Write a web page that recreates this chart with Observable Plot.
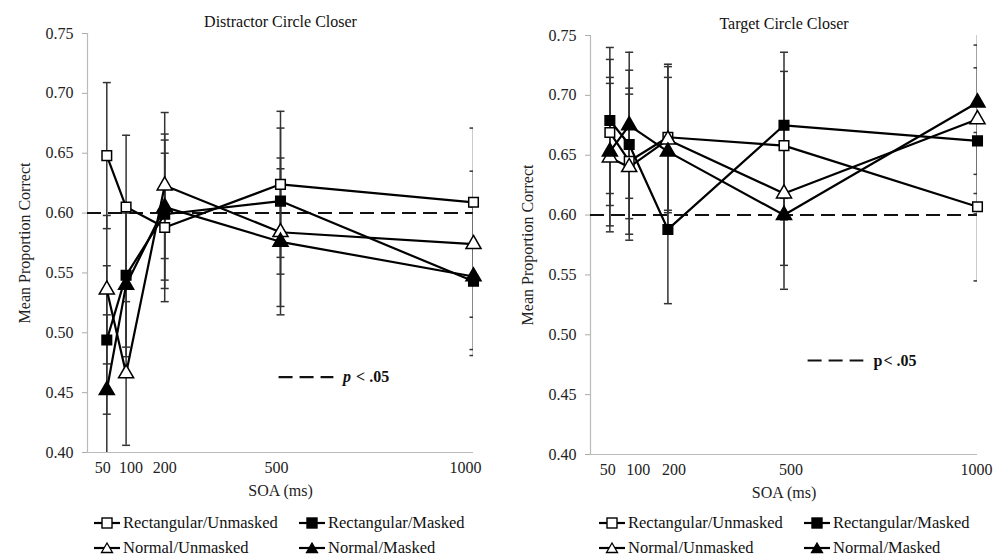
<!DOCTYPE html>
<html><head><meta charset="utf-8">
<script src="https://cdn.jsdelivr.net/npm/d3@7"></script>
<script src="https://cdn.jsdelivr.net/npm/@observablehq/plot@0.6"></script>
<style>
body{margin:0;background:#fff;font-family:"Liberation Serif","Times New Roman",serif;}
#wrap{position:relative;display:flex;width:1003px;height:559px;overflow:hidden;background:#fff}
.panel{position:relative;height:559px}
.legend{position:absolute;top:513px;display:grid;grid-template-columns:205px 180px;row-gap:5px;font-size:16.5px;line-height:20px;color:#111}
.legend div{display:flex;align-items:center;height:20px;white-space:nowrap}
.legend svg{margin-right:1px;flex:none}
</style></head><body><div id="wrap"></div><script>
const soa = [50, 100, 200, 500, 1000];
const yTicks = [0.40, 0.45, 0.50, 0.55, 0.60, 0.65, 0.70, 0.75];
const seriesNames = ["Rectangular/Unmasked", "Rectangular/Masked", "Normal/Unmasked", "Normal/Masked"];
const panelTitles = ["Distractor Circle Closer", "Target Circle Closer"];
const criterion = 0.60;

// Distractor Circle Closer
const dRectUnmasked = [0.648, 0.605, 0.588, 0.624, 0.609];
const dRectMasked   = [0.494, 0.548, 0.599, 0.610, 0.543];
const dNormUnmasked = [0.536, 0.466, 0.623, 0.584, 0.574];
const dNormMasked   = [0.452, 0.540, 0.605, 0.576, 0.547];
const dRectUnmaskedErr = [0.061, 0.060, 0.062, 0.061, 0.062];
const dRectMaskedErr   = [0.062, 0.060, 0.062, 0.061, 0.062];
const dNormUnmaskedErr = [0.062, 0.060, 0.061, 0.062, 0.061];
const dNormMaskedErr   = [0.063, 0.060, 0.061, 0.061, 0.061];

// Target Circle Closer
const tRectUnmasked = [0.669, 0.645, 0.665, 0.658, 0.607];
const tRectMasked   = [0.679, 0.659, 0.588, 0.675, 0.662];
const tNormUnmasked = [0.648, 0.640, 0.663, 0.618, 0.680];
const tNormMasked   = [0.653, 0.675, 0.653, 0.600, 0.694];
const tRectUnmaskedErr = [0.061, 0.061, 0.061, 0.062, 0.062];
const tRectMaskedErr   = [0.061, 0.062, 0.062, 0.061, 0.061];
const tNormUnmaskedErr = [0.062, 0.061, 0.061, 0.060, 0.062];
const tNormMaskedErr   = [0.062, 0.061, 0.062, 0.062, 0.060];

function buildRows(vals, errs) {
  const rows = [];
  seriesNames.forEach((s, i) => soa.forEach((x, j) => rows.push({series: s, soa: x, value: vals[i][j], err: errs[i][j]})));
  return rows;
}
const dRows = buildRows([dRectUnmasked, dRectMasked, dNormUnmasked, dNormMasked], [dRectUnmaskedErr, dRectMaskedErr, dNormUnmaskedErr, dNormMaskedErr]);
const tRows = buildRows([tRectUnmasked, tRectMasked, tNormUnmasked, tNormMasked], [tRectUnmaskedErr, tRectMaskedErr, tNormUnmaskedErr, tNormMaskedErr]);

const capSymbol = {draw(ctx, size) { const r = Math.sqrt(size / Math.PI); ctx.moveTo(-r, 0); ctx.lineTo(r, 0); }};
const style = {
  "Rectangular/Unmasked": {symbol: "square", fill: "#fff"},
  "Rectangular/Masked": {symbol: "square", fill: "#000"},
  "Normal/Unmasked": {symbol: "triangle", fill: "#fff"},
  "Normal/Masked": {symbol: "triangle", fill: "#000"}
};
const FONT = "'Liberation Serif', 'Times New Roman', serif";

function makePanel(rows, title, o) {
  const caps = rows.flatMap(d => [{soa: d.soa, y: d.value + d.err}, {soa: d.soa, y: d.value - d.err}]);
  const dotMarks = seriesNames.map(s => Plot.dot(rows.filter(d => d.series === s), {
    x: "soa", y: "value", symbol: style[s].symbol, fill: style[s].fill, stroke: "#000", strokeWidth: 1.5,
    r: style[s].symbol === "square" ? 5.4 : 5.6
  }));
  const xTickMarks = soa.map((t, i) => Plot.axisX([t], {tickSize: 0, tickPadding: 9, tickFormat: d => String(d), dx: o.tickDx[i], fontSize: 16, label: null, fill: "#222"}));
  return Plot.plot({
    width: o.width, height: 505,
    marginLeft: o.ml, marginRight: o.mr, marginTop: o.mt, marginBottom: 505 - o.bottom,
    style: {fontFamily: FONT, fontSize: "16px", color: "#222", background: "#fff", overflow: "visible"},
    x: {domain: [0, 1000], label: "SOA (ms)"},
    y: {domain: [0.40, 0.75]},
    marks: [
      Plot.axisY({ticks: yTicks, tickFormat: d3.format(".2f"), tickSize: 5, tickPadding: 9, stroke: "#aaa", fill: "#222", label: "Mean Proportion Correct", labelAnchor: "center", labelOffset: 69, labelArrow: "none", fontSize: 16}),
      ...xTickMarks,
      Plot.axisX({ticks: [], tickSize: 0, label: "SOA (ms)", labelAnchor: "center", labelOffset: 43, labelArrow: "none", fontSize: 16, fill: "#222"}),
      Plot.ruleX([0], {stroke: "#bbb", strokeWidth: 1.2}),
      Plot.ruleY([0.40], {stroke: "#bbb", strokeWidth: 1.2}),
      Plot.ruleY([criterion], {stroke: "#111", strokeWidth: 2, strokeDasharray: "14,7"}),
      Plot.ruleX(rows, {x: "soa", y1: d => d.value - d.err, y2: d => d.value + d.err, stroke: "#333", strokeWidth: 1.5, clip: true}),
      Plot.dot(caps, {x: "soa", y: "y", symbol: capSymbol, r: 4, fill: "none", stroke: "#333", strokeWidth: 1.5, clip: true}),
      Plot.line(rows, {x: "soa", y: "value", z: "series", stroke: "#000", strokeWidth: 2.2}),
      ...dotMarks,
      Plot.text([title], {text: d => d, frameAnchor: "top", lineAnchor: "middle", dy: -12, fontSize: 16, fill: "#111"}),
      Plot.link([o.note], {x1: "x1", x2: "x2", y1: "y", y2: "y", stroke: "#111", strokeWidth: 2.2, strokeDasharray: "14,7"}),
      Plot.text([o.note], {x: "tx", y: "y", text: () => "p", textAnchor: "start", fontWeight: "bold", fontStyle: o.italic ? "italic" : "normal", fontSize: 16, fill: "#111"}),
      Plot.text([o.note], {x: "tx", y: "y", text: () => "< .05", dx: o.italic ? 13 : 10, textAnchor: "start", fontWeight: "bold", fontSize: 16, fill: "#111"})
    ]
  });
}

function legendIcon(s) {
  const st = style[s];
  const shape = st.symbol === "square"
    ? `<rect x="10" y="2" width="10" height="10" fill="${st.fill}" stroke="#000" stroke-width="1.4"/>`
    : `<path d="M15,2 L20.5,11.5 L9.5,11.5 Z" fill="${st.fill}" stroke="#000" stroke-width="1.3"/>`;
  return `<svg width="30" height="14"><line x1="2" x2="28" y1="7" y2="7" stroke="#000" stroke-width="2.2"/>${shape}</svg>`;
}

const wrap = document.getElementById("wrap");
const configs = [
  {rows: dRows, title: panelTitles[0], width: 500, ml: 87, mr: 27, mt: 33, bottom: 452, tickDx: [-4, 5, 0, -4, -8], note: {x1: 495, x2: 637, tx: 662, y: 0.463}, italic: true, legendLeft: 92},
  {rows: tRows, title: panelTitles[1], width: 503, ml: 90, mr: 26, mt: 35, bottom: 454, tickDx: [-2, 9, 6, 7, -1], note: {x1: 561, x2: 705, tx: 731, y: 0.4785}, italic: false, legendLeft: 97}
];
configs.forEach(c => {
  const p = document.createElement("div");
  p.className = "panel";
  p.style.width = c.width + "px";
  p.appendChild(makePanel(c.rows, c.title, c));
  const lg = document.createElement("div");
  lg.className = "legend";
  lg.style.left = c.legendLeft + "px";
  lg.innerHTML = seriesNames.map(s => `<div>${legendIcon(s)}<span>${s}</span></div>`).join("");
  p.appendChild(lg);
  wrap.appendChild(p);
});
</script></body></html>
